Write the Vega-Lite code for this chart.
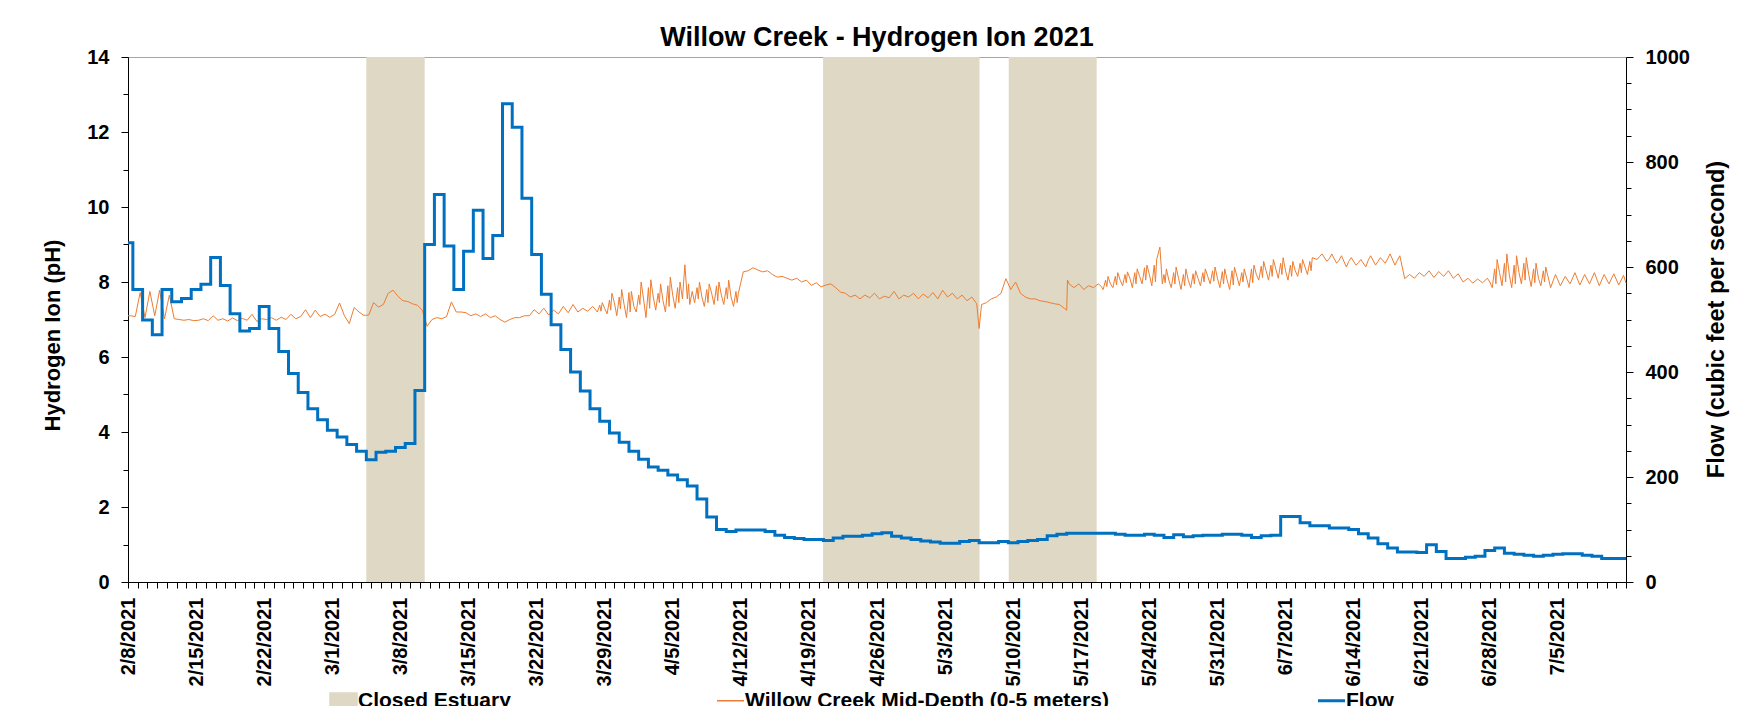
{
"$schema": "https://vega.github.io/schema/vega-lite/v6.json",
"width": 1498, "height": 525,
"autosize": {"type": "none"},
"padding": {"left": 128, "top": 57, "right": 113, "bottom": 124},
"background": "white",
"config": {"view": {"stroke": "#A6A6A6", "strokeWidth": 1}, "font": "Liberation Sans"},
"title": {"text": "Willow Creek - Hydrogen Ion 2021", "fontSize": 27, "font": "Liberation Sans", "fontWeight": "bold", "color": "black", "anchor": "middle", "frame": "group", "offset": -5},
"datasets": {
"closed": [
{"start":"2021-03-04T12:00","end":"2021-03-10T12:00"},
{"start":"2021-04-20T11:00","end":"2021-05-06T13:00"},
{"start":"2021-05-09T13:00","end":"2021-05-18T14:00"}
],
"flow": [
{"t":"2021-02-08T00:00","cfs":646},{"t":"2021-02-08T12:00","cfs":557},{"t":"2021-02-09T12:00","cfs":499},{"t":"2021-02-10T12:00","cfs":471},{"t":"2021-02-11T12:00","cfs":557},{"t":"2021-02-12T12:00","cfs":534},{"t":"2021-02-13T12:00","cfs":540},{"t":"2021-02-14T12:00","cfs":557},{"t":"2021-02-15T12:00","cfs":567},{"t":"2021-02-16T12:00","cfs":618},{"t":"2021-02-17T12:00","cfs":565},{"t":"2021-02-18T12:00","cfs":511},{"t":"2021-02-19T12:00","cfs":478},{"t":"2021-02-20T12:00","cfs":483},{"t":"2021-02-21T12:00","cfs":525},{"t":"2021-02-22T12:00","cfs":483},{"t":"2021-02-23T12:00","cfs":439},{"t":"2021-02-24T12:00","cfs":397},{"t":"2021-02-25T12:00","cfs":361},{"t":"2021-02-26T12:00","cfs":330},{"t":"2021-02-27T12:00","cfs":309},{"t":"2021-02-28T12:00","cfs":289},
{"t":"2021-03-01T12:00","cfs":276},{"t":"2021-03-02T12:00","cfs":262},{"t":"2021-03-03T12:00","cfs":249},{"t":"2021-03-04T12:00","cfs":233},{"t":"2021-03-05T12:00","cfs":247},{"t":"2021-03-06T12:00","cfs":249},{"t":"2021-03-07T12:00","cfs":256},{"t":"2021-03-08T12:00","cfs":264},{"t":"2021-03-09T12:00","cfs":365},{"t":"2021-03-10T12:00","cfs":643},{"t":"2021-03-11T12:00","cfs":738},{"t":"2021-03-12T12:00","cfs":640},{"t":"2021-03-13T12:00","cfs":557},{"t":"2021-03-14T12:00","cfs":630},{"t":"2021-03-15T12:00","cfs":708},{"t":"2021-03-16T12:00","cfs":616},{"t":"2021-03-17T12:00","cfs":660},{"t":"2021-03-18T12:00","cfs":911},{"t":"2021-03-19T12:00","cfs":866},{"t":"2021-03-20T12:00","cfs":731},{"t":"2021-03-21T12:00","cfs":624},{"t":"2021-03-22T12:00","cfs":548},{"t":"2021-03-23T12:00","cfs":490},{"t":"2021-03-24T12:00","cfs":443},{"t":"2021-03-25T12:00","cfs":400},{"t":"2021-03-26T12:00","cfs":364},{"t":"2021-03-27T12:00","cfs":330},{"t":"2021-03-28T12:00","cfs":306},{"t":"2021-03-29T12:00","cfs":284},{"t":"2021-03-30T12:00","cfs":266},{"t":"2021-03-31T12:00","cfs":249},
{"t":"2021-04-01T12:00","cfs":234},{"t":"2021-04-02T12:00","cfs":219},{"t":"2021-04-03T12:00","cfs":213},{"t":"2021-04-04T12:00","cfs":204},{"t":"2021-04-05T12:00","cfs":195},{"t":"2021-04-06T12:00","cfs":183},{"t":"2021-04-07T12:00","cfs":158},{"t":"2021-04-08T12:00","cfs":124},{"t":"2021-04-09T12:00","cfs":100},{"t":"2021-04-10T12:00","cfs":96},{"t":"2021-04-11T12:00","cfs":99},{"t":"2021-04-12T12:00","cfs":99},{"t":"2021-04-13T12:00","cfs":99},{"t":"2021-04-14T12:00","cfs":96},{"t":"2021-04-15T12:00","cfs":89},{"t":"2021-04-16T12:00","cfs":85},{"t":"2021-04-17T12:00","cfs":83},{"t":"2021-04-18T12:00","cfs":81},{"t":"2021-04-19T12:00","cfs":81},{"t":"2021-04-20T12:00","cfs":79},{"t":"2021-04-21T12:00","cfs":84},{"t":"2021-04-22T12:00","cfs":87},{"t":"2021-04-23T12:00","cfs":87},{"t":"2021-04-24T12:00","cfs":89},{"t":"2021-04-25T12:00","cfs":92},{"t":"2021-04-26T12:00","cfs":94},{"t":"2021-04-27T12:00","cfs":87},{"t":"2021-04-28T12:00","cfs":84},{"t":"2021-04-29T12:00","cfs":81},{"t":"2021-04-30T12:00","cfs":78},
{"t":"2021-05-01T12:00","cfs":76},{"t":"2021-05-02T12:00","cfs":74},{"t":"2021-05-03T12:00","cfs":74},{"t":"2021-05-04T12:00","cfs":77},{"t":"2021-05-05T12:00","cfs":79},{"t":"2021-05-06T12:00","cfs":75},{"t":"2021-05-07T12:00","cfs":75},{"t":"2021-05-08T12:00","cfs":77},{"t":"2021-05-09T12:00","cfs":75},{"t":"2021-05-10T12:00","cfs":77},{"t":"2021-05-11T12:00","cfs":79},{"t":"2021-05-12T12:00","cfs":81},{"t":"2021-05-13T12:00","cfs":88},{"t":"2021-05-14T12:00","cfs":91},{"t":"2021-05-15T12:00","cfs":93},{"t":"2021-05-16T12:00","cfs":93},{"t":"2021-05-17T12:00","cfs":93},{"t":"2021-05-18T12:00","cfs":93},{"t":"2021-05-19T12:00","cfs":93},{"t":"2021-05-20T12:00","cfs":91},{"t":"2021-05-21T12:00","cfs":89},{"t":"2021-05-22T12:00","cfs":89},{"t":"2021-05-23T12:00","cfs":91},{"t":"2021-05-24T12:00","cfs":89},{"t":"2021-05-25T12:00","cfs":85},{"t":"2021-05-26T12:00","cfs":90},{"t":"2021-05-27T12:00","cfs":86},{"t":"2021-05-28T12:00","cfs":88},{"t":"2021-05-29T12:00","cfs":89},{"t":"2021-05-30T12:00","cfs":89},{"t":"2021-05-31T12:00","cfs":91},
{"t":"2021-06-01T12:00","cfs":91},{"t":"2021-06-02T12:00","cfs":89},{"t":"2021-06-03T12:00","cfs":85},{"t":"2021-06-04T12:00","cfs":88},{"t":"2021-06-05T12:00","cfs":89},{"t":"2021-06-06T12:00","cfs":125},{"t":"2021-06-07T12:00","cfs":125},{"t":"2021-06-08T12:00","cfs":113},{"t":"2021-06-09T12:00","cfs":107},{"t":"2021-06-10T12:00","cfs":107},{"t":"2021-06-11T12:00","cfs":103},{"t":"2021-06-12T12:00","cfs":103},{"t":"2021-06-13T12:00","cfs":100},{"t":"2021-06-14T12:00","cfs":92},{"t":"2021-06-15T12:00","cfs":84},{"t":"2021-06-16T12:00","cfs":73},{"t":"2021-06-17T12:00","cfs":65},{"t":"2021-06-18T12:00","cfs":57},{"t":"2021-06-19T12:00","cfs":57},{"t":"2021-06-20T12:00","cfs":56},{"t":"2021-06-21T12:00","cfs":71},{"t":"2021-06-22T12:00","cfs":58},{"t":"2021-06-23T12:00","cfs":45},{"t":"2021-06-24T12:00","cfs":45},{"t":"2021-06-25T12:00","cfs":47},{"t":"2021-06-26T12:00","cfs":49},{"t":"2021-06-27T12:00","cfs":60},{"t":"2021-06-28T12:00","cfs":65},{"t":"2021-06-29T12:00","cfs":55},{"t":"2021-06-30T12:00","cfs":53},
{"t":"2021-07-01T12:00","cfs":51},{"t":"2021-07-02T12:00","cfs":49},{"t":"2021-07-03T12:00","cfs":51},{"t":"2021-07-04T12:00","cfs":53},{"t":"2021-07-05T12:00","cfs":54},{"t":"2021-07-06T12:00","cfs":54},{"t":"2021-07-07T12:00","cfs":51},{"t":"2021-07-08T12:00","cfs":49},{"t":"2021-07-09T12:00","cfs":45},{"t":"2021-07-10T12:00","cfs":45},{"t":"2021-07-11T12:00","cfs":45},{"t":"2021-07-12T00:00","cfs":45}
],
"ph": [
{"t":"2021-02-08T00:00","ph":7.10},{"t":"2021-02-08T06:00","ph":7.10},{"t":"2021-02-08T18:00","ph":7.08},
{"t":"2021-02-09T06:00","ph":7.72},{"t":"2021-02-09T18:00","ph":7.05},
{"t":"2021-02-10T06:00","ph":7.75},{"t":"2021-02-10T18:00","ph":7.10},
{"t":"2021-02-11T06:00","ph":7.78},{"t":"2021-02-11T18:00","ph":7.02},
{"t":"2021-02-12T06:00","ph":7.65},{"t":"2021-02-12T18:00","ph":7.02},
{"t":"2021-02-13T06:00","ph":7.00},{"t":"2021-02-13T18:00","ph":6.98},
{"t":"2021-02-14T06:00","ph":7.00},{"t":"2021-02-14T18:00","ph":6.97},
{"t":"2021-02-15T06:00","ph":6.98},{"t":"2021-02-15T18:00","ph":7.02},
{"t":"2021-02-16T06:00","ph":6.97},{"t":"2021-02-16T18:00","ph":7.10},
{"t":"2021-02-17T06:00","ph":6.98},{"t":"2021-02-17T18:00","ph":7.02},
{"t":"2021-02-18T06:00","ph":6.96},{"t":"2021-02-18T18:00","ph":7.04},
{"t":"2021-02-19T06:00","ph":6.97},{"t":"2021-02-19T18:00","ph":7.03},
{"t":"2021-02-20T06:00","ph":6.98},{"t":"2021-02-20T18:00","ph":7.14},
{"t":"2021-02-21T06:00","ph":6.95},{"t":"2021-02-21T18:00","ph":7.02},
{"t":"2021-02-22T06:00","ph":7.00},{"t":"2021-02-22T18:00","ph":7.05},
{"t":"2021-02-23T06:00","ph":6.98},{"t":"2021-02-23T18:00","ph":7.06},
{"t":"2021-02-24T06:00","ph":7.00},{"t":"2021-02-24T18:00","ph":7.14},
{"t":"2021-02-25T06:00","ph":7.02},{"t":"2021-02-25T18:00","ph":7.08},
{"t":"2021-02-26T06:00","ph":7.26},{"t":"2021-02-26T18:00","ph":7.05},
{"t":"2021-02-27T06:00","ph":7.25},{"t":"2021-02-27T18:00","ph":7.08},
{"t":"2021-02-28T06:00","ph":7.14},{"t":"2021-02-28T18:00","ph":7.06},
{"t":"2021-03-01T06:00","ph":7.14},{"t":"2021-03-01T18:00","ph":7.44},
{"t":"2021-03-02T06:00","ph":7.10},{"t":"2021-03-02T18:00","ph":6.89},
{"t":"2021-03-03T06:00","ph":7.32},{"t":"2021-03-03T18:00","ph":7.20},
{"t":"2021-03-04T06:00","ph":7.11},{"t":"2021-03-04T18:00","ph":7.12},
{"t":"2021-03-05T06:00","ph":7.45},{"t":"2021-03-05T18:00","ph":7.33},
{"t":"2021-03-06T06:00","ph":7.40},{"t":"2021-03-06T18:00","ph":7.70},
{"t":"2021-03-07T06:00","ph":7.78},{"t":"2021-03-07T18:00","ph":7.62},
{"t":"2021-03-08T06:00","ph":7.50},{"t":"2021-03-08T18:00","ph":7.48},
{"t":"2021-03-09T06:00","ph":7.42},{"t":"2021-03-09T18:00","ph":7.38},
{"t":"2021-03-10T06:00","ph":7.25},{"t":"2021-03-10T18:00","ph":6.82},
{"t":"2021-03-11T06:00","ph":7.00},{"t":"2021-03-11T18:00","ph":7.05},
{"t":"2021-03-12T06:00","ph":7.02},{"t":"2021-03-12T18:00","ph":7.08},
{"t":"2021-03-13T06:00","ph":7.47},{"t":"2021-03-13T18:00","ph":7.20},
{"t":"2021-03-14T06:00","ph":7.20},{"t":"2021-03-14T18:00","ph":7.18},
{"t":"2021-03-15T06:00","ph":7.10},{"t":"2021-03-15T18:00","ph":7.15},
{"t":"2021-03-16T06:00","ph":7.08},{"t":"2021-03-16T18:00","ph":7.15},
{"t":"2021-03-17T06:00","ph":7.05},{"t":"2021-03-17T18:00","ph":7.10},
{"t":"2021-03-18T06:00","ph":7.00},{"t":"2021-03-18T18:00","ph":6.93},
{"t":"2021-03-19T06:00","ph":7.00},{"t":"2021-03-19T18:00","ph":7.05},
{"t":"2021-03-20T06:00","ph":7.05},{"t":"2021-03-20T18:00","ph":7.10},
{"t":"2021-03-21T06:00","ph":7.10},{"t":"2021-03-21T18:00","ph":7.26},
{"t":"2021-03-22T06:00","ph":7.15},{"t":"2021-03-22T18:00","ph":7.30},
{"t":"2021-03-23T06:00","ph":7.12},{"t":"2021-03-23T18:00","ph":7.25},
{"t":"2021-03-24T06:00","ph":7.15},{"t":"2021-03-24T18:00","ph":7.35},
{"t":"2021-03-25T06:00","ph":7.18},{"t":"2021-03-25T18:00","ph":7.40},
{"t":"2021-03-26T06:00","ph":7.20},{"t":"2021-03-26T18:00","ph":7.30},
{"t":"2021-03-27T06:00","ph":7.22},{"t":"2021-03-27T18:00","ph":7.35},
{"t":"2021-03-28T00:00","ph":7.28},{"t":"2021-03-28T06:00","ph":7.20},{"t":"2021-03-28T12:00","ph":7.38},{"t":"2021-03-28T15:00","ph":7.22},{"t":"2021-03-28T18:00","ph":7.45},
{"t":"2021-03-29T00:00","ph":7.30},{"t":"2021-03-29T06:00","ph":7.15},{"t":"2021-03-29T12:00","ph":7.52},{"t":"2021-03-29T15:00","ph":7.25},{"t":"2021-03-29T18:00","ph":7.70},
{"t":"2021-03-30T00:00","ph":7.45},{"t":"2021-03-30T06:00","ph":7.10},{"t":"2021-03-30T12:00","ph":7.60},{"t":"2021-03-30T15:00","ph":7.28},{"t":"2021-03-30T18:00","ph":7.80},
{"t":"2021-03-31T00:00","ph":7.40},{"t":"2021-03-31T06:00","ph":7.05},{"t":"2021-03-31T12:00","ph":7.72},{"t":"2021-03-31T15:00","ph":7.20},{"t":"2021-03-31T18:00","ph":7.75},
{"t":"2021-04-01T00:00","ph":7.35},{"t":"2021-04-01T06:00","ph":7.20},{"t":"2021-04-01T12:00","ph":7.65},{"t":"2021-04-01T15:00","ph":7.40},{"t":"2021-04-01T18:00","ph":8.00},
{"t":"2021-04-02T00:00","ph":7.55},{"t":"2021-04-02T06:00","ph":7.05},{"t":"2021-04-02T12:00","ph":7.85},{"t":"2021-04-02T15:00","ph":7.30},{"t":"2021-04-02T18:00","ph":8.06},
{"t":"2021-04-03T00:00","ph":7.60},{"t":"2021-04-03T06:00","ph":7.25},{"t":"2021-04-03T12:00","ph":7.70},{"t":"2021-04-03T15:00","ph":7.45},{"t":"2021-04-03T18:00","ph":7.95},
{"t":"2021-04-04T00:00","ph":7.50},{"t":"2021-04-04T06:00","ph":7.20},{"t":"2021-04-04T12:00","ph":7.90},{"t":"2021-04-04T15:00","ph":7.35},{"t":"2021-04-04T18:00","ph":8.13},
{"t":"2021-04-05T00:00","ph":7.65},{"t":"2021-04-05T06:00","ph":7.30},{"t":"2021-04-05T12:00","ph":7.85},{"t":"2021-04-05T15:00","ph":7.45},{"t":"2021-04-05T18:00","ph":8.00},
{"t":"2021-04-06T00:00","ph":7.55},{"t":"2021-04-06T06:00","ph":8.46},{"t":"2021-04-06T12:00","ph":7.55},{"t":"2021-04-06T15:00","ph":7.95},{"t":"2021-04-06T18:00","ph":7.40},
{"t":"2021-04-07T00:00","ph":7.75},{"t":"2021-04-07T06:00","ph":7.45},{"t":"2021-04-07T12:00","ph":7.85},{"t":"2021-04-07T15:00","ph":7.55},{"t":"2021-04-07T18:00","ph":8.00},
{"t":"2021-04-08T00:00","ph":7.60},{"t":"2021-04-08T06:00","ph":7.35},{"t":"2021-04-08T12:00","ph":7.80},{"t":"2021-04-08T15:00","ph":7.45},{"t":"2021-04-08T18:00","ph":7.95},
{"t":"2021-04-09T00:00","ph":7.70},{"t":"2021-04-09T06:00","ph":7.40},{"t":"2021-04-09T12:00","ph":7.90},{"t":"2021-04-09T15:00","ph":7.50},{"t":"2021-04-09T18:00","ph":8.00},
{"t":"2021-04-10T00:00","ph":7.65},{"t":"2021-04-10T06:00","ph":7.40},{"t":"2021-04-10T12:00","ph":7.85},{"t":"2021-04-10T15:00","ph":7.55},{"t":"2021-04-10T18:00","ph":8.05},
{"t":"2021-04-11T00:00","ph":7.60},{"t":"2021-04-11T06:00","ph":7.35},{"t":"2021-04-11T12:00","ph":7.75},{"t":"2021-04-11T15:00","ph":7.45},{"t":"2021-04-11T18:00","ph":7.70},
{"t":"2021-04-12T06:00","ph":8.27},{"t":"2021-04-12T18:00","ph":8.30},
{"t":"2021-04-13T06:00","ph":8.38},{"t":"2021-04-13T18:00","ph":8.32},
{"t":"2021-04-14T06:00","ph":8.27},{"t":"2021-04-14T18:00","ph":8.30},
{"t":"2021-04-15T06:00","ph":8.20},{"t":"2021-04-15T18:00","ph":8.13},
{"t":"2021-04-16T06:00","ph":8.15},{"t":"2021-04-16T18:00","ph":8.10},
{"t":"2021-04-17T06:00","ph":8.05},{"t":"2021-04-17T18:00","ph":8.10},
{"t":"2021-04-18T06:00","ph":8.00},{"t":"2021-04-18T18:00","ph":8.05},
{"t":"2021-04-19T06:00","ph":7.91},{"t":"2021-04-19T18:00","ph":7.98},
{"t":"2021-04-20T06:00","ph":7.87},{"t":"2021-04-20T18:00","ph":7.92},
{"t":"2021-04-21T06:00","ph":7.95},{"t":"2021-04-21T18:00","ph":7.85},
{"t":"2021-04-22T06:00","ph":7.73},{"t":"2021-04-22T18:00","ph":7.70},
{"t":"2021-04-23T06:00","ph":7.60},{"t":"2021-04-23T18:00","ph":7.65},
{"t":"2021-04-24T06:00","ph":7.55},{"t":"2021-04-24T18:00","ph":7.65},
{"t":"2021-04-25T06:00","ph":7.58},{"t":"2021-04-25T18:00","ph":7.70},
{"t":"2021-04-26T06:00","ph":7.55},{"t":"2021-04-26T18:00","ph":7.62},
{"t":"2021-04-27T06:00","ph":7.58},{"t":"2021-04-27T18:00","ph":7.75},
{"t":"2021-04-28T06:00","ph":7.55},{"t":"2021-04-28T18:00","ph":7.65},
{"t":"2021-04-29T06:00","ph":7.60},{"t":"2021-04-29T18:00","ph":7.70},
{"t":"2021-04-30T06:00","ph":7.55},{"t":"2021-04-30T18:00","ph":7.68},
{"t":"2021-05-01T06:00","ph":7.58},{"t":"2021-05-01T18:00","ph":7.72},
{"t":"2021-05-02T06:00","ph":7.55},{"t":"2021-05-02T18:00","ph":7.78},
{"t":"2021-05-03T06:00","ph":7.60},{"t":"2021-05-03T18:00","ph":7.70},
{"t":"2021-05-04T06:00","ph":7.55},{"t":"2021-05-04T18:00","ph":7.65},
{"t":"2021-05-05T06:00","ph":7.50},{"t":"2021-05-05T18:00","ph":7.60},
{"t":"2021-05-06T06:00","ph":7.42},{"t":"2021-05-06T12:00","ph":6.76},{"t":"2021-05-06T18:00","ph":7.40},
{"t":"2021-05-07T06:00","ph":7.45},{"t":"2021-05-07T18:00","ph":7.55},
{"t":"2021-05-08T06:00","ph":7.60},{"t":"2021-05-08T18:00","ph":7.70},
{"t":"2021-05-09T06:00","ph":8.09},{"t":"2021-05-09T18:00","ph":7.80},
{"t":"2021-05-10T06:00","ph":8.00},{"t":"2021-05-10T18:00","ph":7.70},
{"t":"2021-05-11T06:00","ph":7.60},{"t":"2021-05-11T18:00","ph":7.55},
{"t":"2021-05-12T06:00","ph":7.55},{"t":"2021-05-12T18:00","ph":7.50},
{"t":"2021-05-13T06:00","ph":7.48},{"t":"2021-05-13T18:00","ph":7.45},
{"t":"2021-05-14T06:00","ph":7.42},{"t":"2021-05-14T18:00","ph":7.40},
{"t":"2021-05-15T06:00","ph":7.30},{"t":"2021-05-15T12:00","ph":7.25},{"t":"2021-05-15T14:00","ph":8.05},{"t":"2021-05-15T18:00","ph":7.95},
{"t":"2021-05-16T06:00","ph":7.85},{"t":"2021-05-16T18:00","ph":7.95},
{"t":"2021-05-17T06:00","ph":7.80},{"t":"2021-05-17T18:00","ph":7.90},
{"t":"2021-05-18T06:00","ph":7.85},{"t":"2021-05-18T18:00","ph":7.95},
{"t":"2021-05-19T00:00","ph":7.90},{"t":"2021-05-19T06:00","ph":7.80},{"t":"2021-05-19T12:00","ph":8.05},{"t":"2021-05-19T15:00","ph":7.88},{"t":"2021-05-19T18:00","ph":8.15},
{"t":"2021-05-20T00:00","ph":7.95},{"t":"2021-05-20T06:00","ph":7.85},{"t":"2021-05-20T12:00","ph":8.15},{"t":"2021-05-20T15:00","ph":7.92},{"t":"2021-05-20T18:00","ph":8.25},
{"t":"2021-05-21T00:00","ph":8.05},{"t":"2021-05-21T06:00","ph":7.90},{"t":"2021-05-21T12:00","ph":8.20},{"t":"2021-05-21T15:00","ph":7.98},{"t":"2021-05-21T18:00","ph":8.27},
{"t":"2021-05-22T00:00","ph":8.10},{"t":"2021-05-22T06:00","ph":7.85},{"t":"2021-05-22T12:00","ph":8.25},{"t":"2021-05-22T15:00","ph":7.95},{"t":"2021-05-22T18:00","ph":8.35},
{"t":"2021-05-23T00:00","ph":8.15},{"t":"2021-05-23T06:00","ph":7.95},{"t":"2021-05-23T12:00","ph":8.38},{"t":"2021-05-23T15:00","ph":8.05},{"t":"2021-05-23T18:00","ph":8.45},
{"t":"2021-05-24T00:00","ph":8.20},{"t":"2021-05-24T06:00","ph":7.90},{"t":"2021-05-24T12:00","ph":8.45},{"t":"2021-05-24T15:00","ph":8.00},{"t":"2021-05-24T18:00","ph":8.60},
{"t":"2021-05-25T02:00","ph":8.93},{"t":"2021-05-25T08:00","ph":7.95},{"t":"2021-05-25T12:00","ph":8.20},{"t":"2021-05-25T15:00","ph":7.98},{"t":"2021-05-25T18:00","ph":8.35},
{"t":"2021-05-26T00:00","ph":8.05},{"t":"2021-05-26T06:00","ph":7.85},{"t":"2021-05-26T12:00","ph":8.25},{"t":"2021-05-26T15:00","ph":7.95},{"t":"2021-05-26T18:00","ph":8.40},
{"t":"2021-05-27T00:00","ph":8.10},{"t":"2021-05-27T06:00","ph":7.80},{"t":"2021-05-27T12:00","ph":8.20},{"t":"2021-05-27T15:00","ph":7.90},{"t":"2021-05-27T18:00","ph":8.35},
{"t":"2021-05-28T00:00","ph":8.05},{"t":"2021-05-28T06:00","ph":7.85},{"t":"2021-05-28T12:00","ph":8.22},{"t":"2021-05-28T15:00","ph":7.95},{"t":"2021-05-28T18:00","ph":8.30},
{"t":"2021-05-29T00:00","ph":8.10},{"t":"2021-05-29T06:00","ph":7.90},{"t":"2021-05-29T12:00","ph":8.25},{"t":"2021-05-29T15:00","ph":8.00},{"t":"2021-05-29T18:00","ph":8.35},
{"t":"2021-05-30T00:00","ph":8.15},{"t":"2021-05-30T06:00","ph":7.95},{"t":"2021-05-30T12:00","ph":8.30},{"t":"2021-05-30T15:00","ph":8.02},{"t":"2021-05-30T18:00","ph":8.40},
{"t":"2021-05-31T00:00","ph":8.10},{"t":"2021-05-31T06:00","ph":7.85},{"t":"2021-05-31T12:00","ph":8.28},{"t":"2021-05-31T15:00","ph":7.95},{"t":"2021-05-31T18:00","ph":8.35},
{"t":"2021-06-01T00:00","ph":8.05},{"t":"2021-06-01T06:00","ph":7.80},{"t":"2021-06-01T12:00","ph":8.30},{"t":"2021-06-01T15:00","ph":7.92},{"t":"2021-06-01T18:00","ph":8.40},
{"t":"2021-06-02T00:00","ph":8.15},{"t":"2021-06-02T06:00","ph":7.90},{"t":"2021-06-02T12:00","ph":8.25},{"t":"2021-06-02T15:00","ph":8.00},{"t":"2021-06-02T18:00","ph":8.35},
{"t":"2021-06-03T00:00","ph":8.10},{"t":"2021-06-03T06:00","ph":7.85},{"t":"2021-06-03T12:00","ph":8.35},{"t":"2021-06-03T15:00","ph":7.98},{"t":"2021-06-03T18:00","ph":8.45},
{"t":"2021-06-04T00:00","ph":8.20},{"t":"2021-06-04T06:00","ph":8.05},{"t":"2021-06-04T12:00","ph":8.42},{"t":"2021-06-04T15:00","ph":8.12},{"t":"2021-06-04T18:00","ph":8.55},
{"t":"2021-06-05T00:00","ph":8.30},{"t":"2021-06-05T06:00","ph":8.05},{"t":"2021-06-05T12:00","ph":8.45},{"t":"2021-06-05T15:00","ph":8.15},{"t":"2021-06-05T18:00","ph":8.60},
{"t":"2021-06-06T00:00","ph":8.35},{"t":"2021-06-06T06:00","ph":8.10},{"t":"2021-06-06T12:00","ph":8.50},{"t":"2021-06-06T15:00","ph":8.20},{"t":"2021-06-06T18:00","ph":8.65},
{"t":"2021-06-07T00:00","ph":8.30},{"t":"2021-06-07T06:00","ph":8.05},{"t":"2021-06-07T12:00","ph":8.45},{"t":"2021-06-07T15:00","ph":8.15},{"t":"2021-06-07T18:00","ph":8.55},
{"t":"2021-06-08T00:00","ph":8.30},{"t":"2021-06-08T06:00","ph":8.15},{"t":"2021-06-08T12:00","ph":8.50},{"t":"2021-06-08T15:00","ph":8.25},{"t":"2021-06-08T18:00","ph":8.60},
{"t":"2021-06-09T00:00","ph":8.40},{"t":"2021-06-09T06:00","ph":8.20},{"t":"2021-06-09T12:00","ph":8.55},{"t":"2021-06-09T15:00","ph":8.30},{"t":"2021-06-09T18:00","ph":8.65},
{"t":"2021-06-10T06:00","ph":8.60},{"t":"2021-06-10T12:00","ph":8.68},{"t":"2021-06-10T18:00","ph":8.75},
{"t":"2021-06-11T06:00","ph":8.55},{"t":"2021-06-11T12:00","ph":8.62},{"t":"2021-06-11T18:00","ph":8.75},
{"t":"2021-06-12T06:00","ph":8.50},{"t":"2021-06-12T12:00","ph":8.58},{"t":"2021-06-12T18:00","ph":8.70},
{"t":"2021-06-13T06:00","ph":8.40},{"t":"2021-06-13T12:00","ph":8.55},{"t":"2021-06-13T18:00","ph":8.65},
{"t":"2021-06-14T06:00","ph":8.45},{"t":"2021-06-14T12:00","ph":8.52},{"t":"2021-06-14T18:00","ph":8.60},
{"t":"2021-06-15T06:00","ph":8.40},{"t":"2021-06-15T12:00","ph":8.58},{"t":"2021-06-15T18:00","ph":8.70},
{"t":"2021-06-16T06:00","ph":8.45},{"t":"2021-06-16T12:00","ph":8.55},{"t":"2021-06-16T18:00","ph":8.65},
{"t":"2021-06-17T06:00","ph":8.50},{"t":"2021-06-17T12:00","ph":8.62},{"t":"2021-06-17T18:00","ph":8.75},
{"t":"2021-06-18T06:00","ph":8.45},{"t":"2021-06-18T12:00","ph":8.58},{"t":"2021-06-18T18:00","ph":8.70},
{"t":"2021-06-19T06:00","ph":8.09},{"t":"2021-06-19T18:00","ph":8.20},
{"t":"2021-06-20T06:00","ph":8.10},{"t":"2021-06-20T18:00","ph":8.25},
{"t":"2021-06-21T06:00","ph":8.15},{"t":"2021-06-21T18:00","ph":8.30},
{"t":"2021-06-22T06:00","ph":8.12},{"t":"2021-06-22T18:00","ph":8.28},
{"t":"2021-06-23T06:00","ph":8.15},{"t":"2021-06-23T18:00","ph":8.30},
{"t":"2021-06-24T06:00","ph":8.10},{"t":"2021-06-24T18:00","ph":8.22},
{"t":"2021-06-25T06:00","ph":8.00},{"t":"2021-06-25T18:00","ph":8.10},
{"t":"2021-06-26T06:00","ph":7.97},{"t":"2021-06-26T18:00","ph":8.08},
{"t":"2021-06-27T06:00","ph":7.98},{"t":"2021-06-27T18:00","ph":8.10},
{"t":"2021-06-28T00:00","ph":8.00},{"t":"2021-06-28T06:00","ph":7.85},{"t":"2021-06-28T12:00","ph":8.35},{"t":"2021-06-28T15:00","ph":7.95},{"t":"2021-06-28T18:00","ph":8.60},
{"t":"2021-06-29T00:00","ph":8.25},{"t":"2021-06-29T06:00","ph":7.90},{"t":"2021-06-29T12:00","ph":8.50},{"t":"2021-06-29T15:00","ph":8.00},{"t":"2021-06-29T18:00","ph":8.75},
{"t":"2021-06-30T00:00","ph":8.20},{"t":"2021-06-30T06:00","ph":7.85},{"t":"2021-06-30T12:00","ph":8.45},{"t":"2021-06-30T15:00","ph":7.95},{"t":"2021-06-30T18:00","ph":8.70},
{"t":"2021-07-01T00:00","ph":8.25},{"t":"2021-07-01T06:00","ph":7.95},{"t":"2021-07-01T12:00","ph":8.50},{"t":"2021-07-01T15:00","ph":8.05},{"t":"2021-07-01T18:00","ph":8.65},
{"t":"2021-07-02T00:00","ph":8.20},{"t":"2021-07-02T06:00","ph":7.88},{"t":"2021-07-02T12:00","ph":8.35},{"t":"2021-07-02T15:00","ph":7.98},{"t":"2021-07-02T18:00","ph":8.50},
{"t":"2021-07-03T00:00","ph":8.10},{"t":"2021-07-03T06:00","ph":7.90},{"t":"2021-07-03T12:00","ph":8.30},{"t":"2021-07-03T15:00","ph":8.00},{"t":"2021-07-03T18:00","ph":8.40},
{"t":"2021-07-04T06:00","ph":7.85},{"t":"2021-07-04T18:00","ph":8.20},
{"t":"2021-07-05T06:00","ph":7.90},{"t":"2021-07-05T18:00","ph":8.15},
{"t":"2021-07-06T06:00","ph":7.95},{"t":"2021-07-06T18:00","ph":8.25},
{"t":"2021-07-07T06:00","ph":7.92},{"t":"2021-07-07T18:00","ph":8.20},
{"t":"2021-07-08T06:00","ph":7.95},{"t":"2021-07-08T18:00","ph":8.25},
{"t":"2021-07-09T06:00","ph":7.90},{"t":"2021-07-09T18:00","ph":8.20},
{"t":"2021-07-10T06:00","ph":7.95},{"t":"2021-07-10T18:00","ph":8.22},
{"t":"2021-07-11T06:00","ph":7.92},{"t":"2021-07-11T18:00","ph":8.18},
{"t":"2021-07-12T00:00","ph":7.97}
]
},
"layer": [
{
"data": {"name": "closed"},
"mark": {"type": "rect"},
"encoding": {
"x": {"field": "start", "type": "temporal",
"scale": {"domain": [{"year": 2021, "month": 2, "date": 8}, {"year": 2021, "month": 7, "date": 12}]},
"axis": {"title": null, "tickCount": {"interval": "day", "step": 1},
"labelExpr": "(day(datum.value) === 1 && !(month(datum.value) === 6 && date(datum.value) === 12)) ? timeFormat(datum.value, '%-m/%-d/%Y') : ''",
"labelAngle": 270, "labelFontSize": 20, "labelFontWeight": "bold", "labelColor": "black", "labelFont": "Liberation Sans",
"labelPadding": 9, "labelOverlap": false, "labelBound": false, "labelFlush": false,
"tickSize": 6, "tickColor": "black", "domainColor": "black", "grid": false}},
"x2": {"field": "end"},
"color": {"datum": "Closed Estuary", "type": "nominal",
"scale": {"domain": ["Closed Estuary", "Willow Creek Mid-Depth (0-5 meters)", "Flow"], "range": ["#DFD8C4", "#ED7D31", "#0070C0"]},
"legend": {"title": null, "orient": "none", "legendX": 205, "legendY": 633, "direction": "horizontal",
"labelFontSize": 21, "labelFontWeight": "bold", "labelFont": "Liberation Sans", "labelColor": "black",
"columnPadding": 203, "symbolSize": 729, "labelOffset": 4, "padding": 0, "labelLimit": 600,
"encode": {"symbols": {"update": {
"shape": {"signal": "datum.value === 'Closed Estuary' ? 'M-1,-0.55H1V0.55H-1Z' : 'stroke'"},
"fill": {"signal": "datum.value === 'Closed Estuary' ? '#DFD8C4' : 'transparent'"},
"stroke": {"signal": "datum.value === 'Closed Estuary' ? 'transparent' : (datum.value === 'Flow' ? '#0070C0' : '#ED7D31')"},
"strokeWidth": {"signal": "datum.value === 'Flow' ? 3 : 1.5"},
"opacity": {"value": 1}
}}}}}
}
},
{
"data": {"name": "ph"},
"mark": {"type": "line", "strokeWidth": 1},
"encoding": {
"x": {"field": "t", "type": "temporal"},
"y": {"field": "ph", "type": "quantitative",
"scale": {"domain": [0, 14], "nice": false, "zero": true},
"axis": {"title": "Hydrogen Ion (pH)", "values": [0,1,2,3,4,5,6,7,8,9,10,11,12,13,14],
"labelExpr": "datum.value % 2 === 0 ? datum.label : ''",
"tickSize": {"condition": {"test": "datum.value % 2 === 0", "value": 7}, "value": 5},
"labelFontSize": 20, "labelFontWeight": "bold", "labelColor": "black", "labelFont": "Liberation Sans", "labelPadding": 12,
"tickColor": "black", "domainColor": "black", "grid": false,
"titleFontSize": 22, "titleFontWeight": "bold", "titleColor": "black", "titleFont": "Liberation Sans",
"titleAngle": 270, "titleAlign": "center", "titleBaseline": "alphabetic", "titleX": -69, "titleY": 278}},
"color": {"datum": "Willow Creek Mid-Depth (0-5 meters)", "type": "nominal"}
}
},
{
"data": {"name": "flow"},
"mark": {"type": "line", "strokeWidth": 3, "interpolate": "step-after"},
"encoding": {
"x": {"field": "t", "type": "temporal"},
"y": {"field": "cfs", "type": "quantitative",
"scale": {"domain": [0, 1000], "nice": false},
"axis": {"orient": "right", "title": "Flow (cubic feet per second)", "format": "d",
"values": [0,50,100,150,200,250,300,350,400,450,500,550,600,650,700,750,800,850,900,950,1000],
"labelExpr": "datum.value % 200 === 0 ? datum.label : ''",
"tickSize": {"condition": {"test": "datum.value % 200 === 0", "value": 7}, "value": 5},
"labelFontSize": 20, "labelFontWeight": "bold", "labelColor": "black", "labelFont": "Liberation Sans", "labelPadding": 12,
"tickColor": "black", "domainColor": "black", "grid": false,
"titleFontSize": 23.5, "titleFontWeight": "bold", "titleColor": "black", "titleFont": "Liberation Sans",
"titleAngle": 270, "titleAlign": "center", "titleBaseline": "alphabetic", "titleX": 97, "titleY": 262}},
"color": {"datum": "Flow", "type": "nominal"}
}
}
],
"resolve": {"scale": {"y": "independent"}}
}
